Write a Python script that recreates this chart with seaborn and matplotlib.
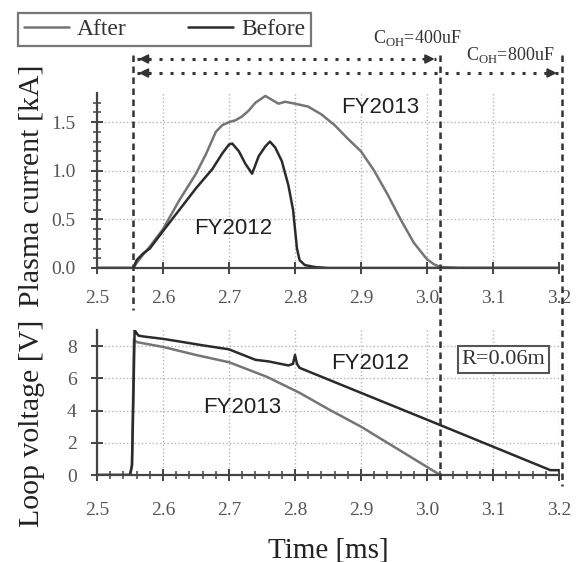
import numpy as np
import pandas as pd
import matplotlib
matplotlib.use('Agg')
from matplotlib import pyplot as plt
import seaborn as sns

# plasma current [kA], After = FY2013, Before = FY2012
t_after = [2.50, 2.55, 2.555, 2.56, 2.57, 2.58, 2.60, 2.625, 2.65, 2.665, 2.68, 2.69, 2.70, 2.71,
           2.72, 2.73, 2.74, 2.755, 2.765, 2.775, 2.785, 2.80, 2.82, 2.84, 2.86, 2.88, 2.90,
           2.92, 2.94, 2.96, 2.98, 3.00, 3.01, 3.02, 3.05, 3.10, 3.20]
ip_after = [0, 0, 0.0, 0.05, 0.14, 0.22, 0.40, 0.70, 0.97, 1.17, 1.40, 1.47, 1.50, 1.52,
            1.56, 1.62, 1.70, 1.77, 1.73, 1.69, 1.71, 1.69, 1.66, 1.58, 1.47, 1.33, 1.20,
            1.00, 0.76, 0.50, 0.26, 0.09, 0.04, 0.01, 0, 0, 0]

t_before = [2.50, 2.55, 2.555, 2.56, 2.57, 2.58, 2.60, 2.625, 2.65, 2.675, 2.69, 2.70, 2.705,
            2.715, 2.725, 2.735, 2.745, 2.755, 2.762, 2.77, 2.78, 2.79, 2.797, 2.80, 2.803,
            2.807, 2.815, 2.83, 2.85, 3.20]
ip_before = [0, 0, 0.0, 0.08, 0.15, 0.20, 0.38, 0.60, 0.82, 1.02, 1.18, 1.27, 1.28,
             1.20, 1.07, 0.97, 1.15, 1.25, 1.30, 1.24, 1.10, 0.85, 0.60, 0.40, 0.20,
             0.08, 0.03, 0.01, 0, 0]

# loop voltage [V]
tv_after = [2.50, 2.55, 2.553, 2.556, 2.56, 2.60, 2.65, 2.70, 2.757, 2.777, 2.807, 2.85, 2.90,
            2.95, 3.00, 3.02]
vl_after = [0, 0, 0.6, 8.4, 8.25, 7.95, 7.45, 7.0, 6.1, 5.7, 5.1, 4.1, 3.0, 1.75, 0.5, 0.0]

tv_before = [2.50, 2.55, 2.553, 2.555, 2.557, 2.56, 2.563, 2.57, 2.60, 2.623, 2.66, 2.70, 2.74,
             2.76, 2.79, 2.797, 2.80, 2.803, 2.807, 3.02, 3.187, 3.20]
vl_before = [0, 0, 0.6, 4.5, 9.0, 8.8, 8.65, 8.6, 8.45, 8.3, 8.05, 7.8, 7.15,
             7.05, 6.8, 6.9, 7.45, 6.9, 6.65, 3.1, 0.3, 0.3]

# capacitor bank discharge markers [ms]
t_start = 2.555
t_400 = 3.02
t_800 = 3.205

labels = ['After', 'Before']
c_after = '#757575'
c_before = '#2b2b2b'
c_axis = '#444444'

sns.set_style('white')
plt.rcParams['font.family'] = ['Liberation Serif', 'DejaVu Serif']
plt.rcParams['mathtext.fontset'] = 'custom'
plt.rcParams['mathtext.rm'] = 'Liberation Serif'

W, H = 578, 562
fig = plt.figure(figsize=(W / 100, H / 100), dpi=100)
ax1 = fig.add_axes([97 / W, (H - 268) / H, 462 / W, 175 / H])
ax2 = fig.add_axes([97 / W, (H - 475) / H, 462 / W, 145 / H])

df_ip = pd.concat([pd.DataFrame({'t': t_after, 'v': ip_after, 'run': 'After'}),
                   pd.DataFrame({'t': t_before, 'v': ip_before, 'run': 'Before'})])
df_vl = pd.concat([pd.DataFrame({'t': tv_after, 'v': vl_after, 'run': 'After'}),
                   pd.DataFrame({'t': tv_before, 'v': vl_before, 'run': 'Before'})])

for run, col in zip(labels, [c_after, c_before]):
    d = df_ip[df_ip.run == run]
    sns.lineplot(x=d.t, y=d.v, ax=ax1, color=col, lw=1.8, label=run, legend=False,
                 estimator=None, sort=False)
    d = df_vl[df_vl.run == run]
    sns.lineplot(x=d.t, y=d.v, ax=ax2, color=col, lw=1.8, legend=False,
                 estimator=None, sort=False)

for ax in [ax1, ax2]:
    ax.set_xlim(2.5, 3.2)
    ax.set_xticks(np.arange(2.5, 3.21, 0.1))
    ax.set_xticklabels(['%.1f' % v for v in np.arange(2.5, 3.21, 0.1)])
    for s in ['top', 'right']:
        ax.spines[s].set_visible(False)
    for s in ['left', 'bottom']:
        ax.spines[s].set_color(c_axis)
        ax.spines[s].set_linewidth(1.6)
    ax.grid(True, ls=':', color='#b5b5b5', lw=1.0)
    ax.tick_params(which='both', bottom=True, left=True)
    ax.tick_params(which='major', direction='inout', length=9, width=1.4, color=c_axis,
                   labelsize=14, labelcolor='#555555')
    ax.tick_params(which='minor', direction='inout', length=6, width=1.1, color=c_axis)
    ax.set_xlabel('')
    ax.set_ylabel('')

ax1.set_ylim(0, 1.8)
ax1.set_yticks([0, 0.5, 1.0, 1.5])
ax1.set_yticks(np.arange(0, 1.71, 0.1), minor=True)
ax1.tick_params(axis='x', pad=11)
ax1.tick_params(axis='y', pad=11)

ax2.set_ylim(0, 9.0)
ax2.set_yticks([0, 2, 4, 6, 8])
ax2.set_xticks(np.arange(2.5, 3.2001, 0.02), minor=True)
ax2.tick_params(axis='x', pad=15)
ax2.tick_params(axis='y', pad=10)

ax1.set_ylabel('Plasma current [kA]', fontsize=21.5, va='center', color='#222222')
ax1.yaxis.set_label_coords(-0.141, 0.469)
ax2.set_ylabel('Loop voltage [V]', fontsize=21.5, va='center', color='#222222')
ax2.yaxis.set_label_coords(-0.141, 0.359)
ax2.set_xlabel('Time [ms]', fontsize=21, va='center', color='#222222')
ax2.xaxis.set_label_coords(0.5, -0.52)

sans = ['Liberation Sans', 'DejaVu Sans']
ax1.text(2.929, 1.65, 'FY2013', family=sans, fontsize=16, ha='center', va='center', color='#222')
ax1.text(2.706, 0.41, 'FY2012', family=sans, fontsize=16, ha='center', va='center', color='#222')
ax2.text(2.72, 4.16, 'FY2013', family=sans, fontsize=16, ha='center', va='center', color='#222')
ax2.text(2.914, 6.95, 'FY2012', family=sans, fontsize=16, ha='center', va='center', color='#222')
ax2.text(3.116, 7.17, 'R=0.06m', fontsize=16, ha='center', va='center', color='#333',
         bbox=dict(boxstyle='square,pad=0.18', fc='white', ec='#555555', lw=1.5))

# overlay in figure pixels (y) and time (x) for the discharge markers
x0 = 2.5 - 0.7 * 97 / 462
x1 = 2.5 + 0.7 * (W - 97) / 462
ov = fig.add_axes([0, 0, 1, 1])
ov.set_axis_off()
ov.patch.set_visible(False)
ov.set_xlim(x0, x1)
ov.set_ylim(H, 0)

dash = dict(color='#333333', lw=1.8, ls=(0, (2.6, 1.8)))
ov.plot([t_start, t_start], [55, 310], **dash)
ov.plot([t_400, t_400], [55, 480], **dash)
ov.plot([t_800, t_800], [55, 486], **dash)

dot = dict(color='#333333', lw=2.2, ls=(0, (1, 2.6)))
head = dict(arrowstyle='-|>', color='#333333', lw=1.5, mutation_scale=13)
for y, tend in [(59, t_400), (73, t_800)]:
    ov.plot([t_start + 0.006, tend - 0.006], [y, y], **dot)
    ov.annotate('', xy=(t_start + 0.004, y), xytext=(t_start + 0.03, y), arrowprops=head)
    ov.annotate('', xy=(tend - 0.004, y), xytext=(tend - 0.03, y), arrowprops=head)

ov.text(2.985, 38, r'C$_{\mathrm{OH}}$=400uF', fontsize=13, ha='center', va='center', color='#333')
ov.text(3.126, 55, r'C$_{\mathrm{OH}}$=800uF', fontsize=13, ha='center', va='center', color='#333')

handles, labs = ax1.get_legend_handles_labels()
leg = fig.legend(handles, labs, loc='upper left', bbox_to_anchor=(18 / W, 1 - 13 / H),
                 ncol=2, frameon=True, fancybox=False, edgecolor='#555555', fontsize=17,
                 handlelength=1.9, handletextpad=0.35, columnspacing=2.6, borderpad=0.25,
                 borderaxespad=0)
leg.get_frame().set_linewidth(1.6)
for txt in leg.get_texts():
    txt.set_color('#333333')

fig.savefig('out.png', dpi=100)
